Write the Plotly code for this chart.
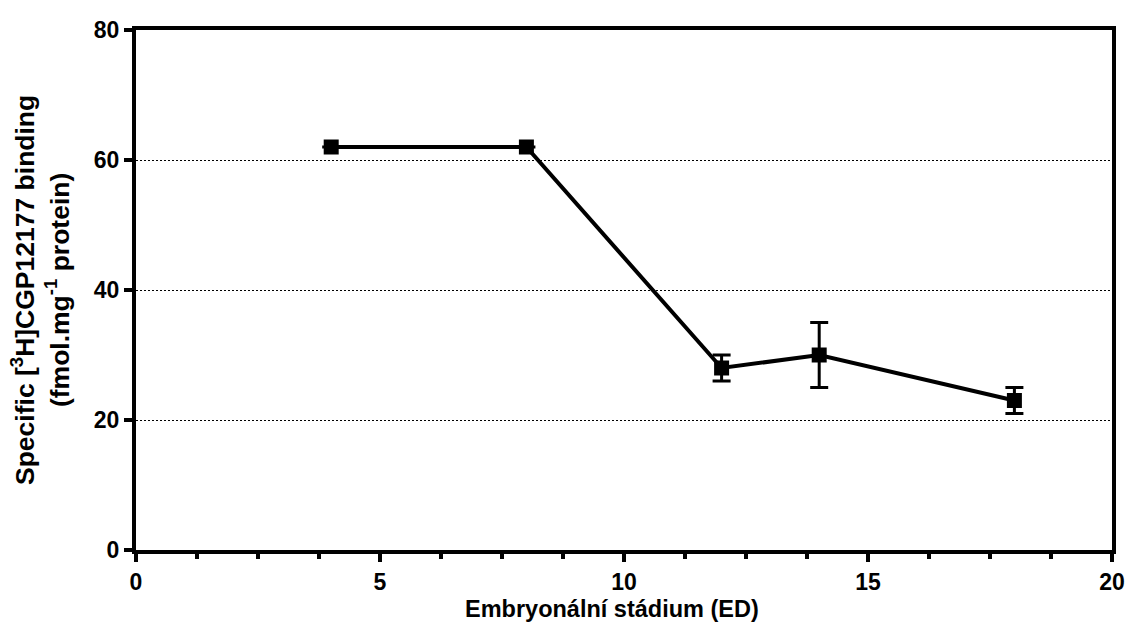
import plotly.graph_objects as go

stage = [4, 8, 12, 14, 18]
binding = [62, 62, 28, 30, 23]
err = [0, 0, 2, 5, 2]
x_ticks = [0, 5, 10, 15, 20]
y_ticks = [0, 20, 40, 60, 80]

FONT = "Liberation Sans"

fig = go.Figure()
fig.add_trace(go.Scatter(
    x=stage, y=binding, mode="lines+markers",
    line=dict(color="black", width=4),
    marker=dict(symbol="square", size=15, color="black"),
    error_y=dict(type="data", array=err, visible=True, color="black", thickness=3, width=9),
    showlegend=False,
))

fig.update_layout(
    width=1129, height=624,
    margin=dict(l=136, r=17, t=30, b=74),
    plot_bgcolor="white", paper_bgcolor="white",
    font=dict(family=FONT, color="black"),
)
fig.update_xaxes(
    range=[0, 20], tickvals=x_ticks, ticktext=[str(v) for v in x_ticks],
    showline=True, linecolor="black", linewidth=4, mirror=True,
    ticks="outside", ticklen=8, tickwidth=4, tickcolor="black",
    minor=dict(dtick=1.25, ticks="outside", ticklen=5, tickwidth=4, tickcolor="black", showgrid=False),
    showgrid=False, zeroline=False, automargin=False,
    tickfont=dict(family=FONT, size=23, color="black", weight="bold"),
)
fig.update_yaxes(
    range=[0, 80], tickvals=y_ticks, ticktext=[str(v) for v in y_ticks],
    showline=True, linecolor="black", linewidth=4, mirror=True,
    ticks="outside", ticklen=8, tickwidth=4, tickcolor="black",
    showgrid=True, gridcolor="black", gridwidth=1, griddash="2px,2px",
    zeroline=False, automargin=False,
    tickfont=dict(family=FONT, size=23, color="black", weight="bold"),
)

fig.add_annotation(
    text="<b>Embryonální stádium (ED)</b>",
    xref="paper", yref="paper", x=(612 - 136) / 976, y=0,
    xanchor="center", yanchor="middle", yshift=-59, showarrow=False,
    font=dict(family=FONT, size=23.5, color="black"),
)
fig.add_annotation(
    text="<b>Specific [<sup>3</sup>H]CGP12177 binding<br>(fmol.mg<sup>-1</sup> protein)</b>",
    xref="paper", yref="paper", x=0, y=0.5, xanchor="center", yanchor="middle",
    xshift=-96, textangle=-90, showarrow=False,
    font=dict(family=FONT, size=26.5, color="black"),
)

fig.write_html("out.html", config={"displayModeBar": False},
               post_script="document.body.style.margin='0';")
